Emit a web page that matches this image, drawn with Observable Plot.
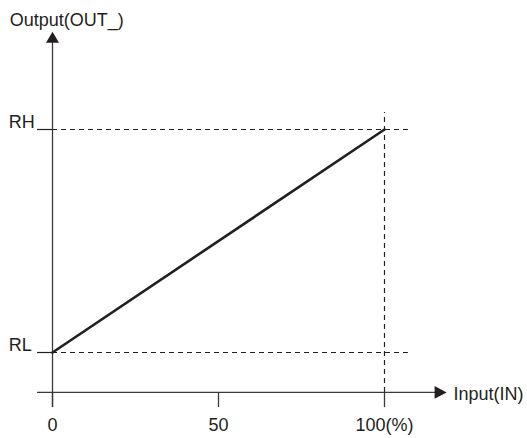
<!DOCTYPE html>
<html>
<head>
<meta charset="utf-8">
<script src="https://cdn.jsdelivr.net/npm/d3@7"></script>
<script src="https://cdn.jsdelivr.net/npm/@observablehq/plot@0.6"></script>
<style>
  html, body { margin: 0; padding: 0; background: #fff; }
</style>
</head>
<body>
<script>
// ---- data ----
const inputPct = [0, 100];            // Input(IN) in %
const outputLevel = [0, 100];         // 0 = RL, 100 = RH (scaled output)
const xTicks = [0, 50, 100];
const xTickLabels = ["0", "50", "100(%)"];
const yLevels = [0, 100];
const yLevelLabels = ["RL", "RH"];
const xAxisTitle = "Input(IN)";
const yAxisTitle = "Output(OUT_)";

// ---- layout (data units of the chart's own scales) ----
const axisYPos = -17.9;      // where the horizontal axis crosses
const axisXStart = -4.5;     // left end of horizontal lines
const axisXArrow = 116.9;    // x-axis arrowhead centre
const axisYBottom = -24.7;   // bottom end of y axis / ticks
const axisYArrow = 141.4;    // y-axis arrowhead centre
const guideRight = 107.2;    // right end of dashed guides
const guideTop = 107.6;      // top end of vertical dashed guide
const labelLeft = -13.2;

const ink = "#231f20";

const arrowRight = {draw(ctx) { ctx.moveTo(6, 0); ctx.lineTo(-6, -6.3); ctx.lineTo(-6, 6.3); ctx.closePath(); }};
const arrowUp = {draw(ctx) { ctx.moveTo(0, -5.5); ctx.lineTo(6.5, 5.5); ctx.lineTo(-6.5, 5.5); ctx.closePath(); }};

const line = inputPct.map((x, i) => ({x, y: outputLevel[i]}));
const levels = yLevels.map((y, i) => ({y, label: yLevelLabels[i]}));
const ticks = xTicks.map((x, i) => ({x, label: xTickLabels[i]}));

const chart = Plot.plot({
  width: 527,
  height: 438,
  marginTop: 0, marginRight: 0, marginBottom: 0, marginLeft: 0,
  x: {domain: [0, 100], range: [52, 384], axis: null},
  y: {domain: [0, 100], range: [352, 129], axis: null},
  style: {fontFamily: "'Liberation Sans', Arial, Helvetica, sans-serif", fontSize: "18px", color: ink, background: "#fff"},
  marks: [
    // dashed guides at RL / RH
    Plot.ruleY(levels, {y: "y", x1: 0, x2: guideRight, stroke: ink, strokeWidth: 1.2, strokeDasharray: "5,4"}),
    Plot.ruleY(levels, {y: "y", x1: axisXStart, x2: 0, stroke: ink, strokeWidth: 1.2}),
    // vertical dashed guide at 100%
    Plot.ruleX([inputPct[1]], {x: d => d, y1: axisYPos, y2: guideTop, stroke: ink, strokeWidth: 1.2, strokeDasharray: "5,4"}),
    // horizontal axis
    Plot.ruleY([axisYPos], {y: d => d, x1: axisXStart, x2: axisXArrow, stroke: "#3a3a3a", strokeWidth: 1.3}),
    Plot.dot([axisXArrow], {x: d => d, y: axisYPos, symbol: arrowRight, r: 5, fill: ink, stroke: "none"}),
    // vertical axis
    Plot.ruleX([0], {x: d => d, y1: axisYBottom, y2: axisYArrow, stroke: "#3a3a3a", strokeWidth: 1.3}),
    Plot.dot([axisYArrow], {x: 0, y: d => d, symbol: arrowUp, r: 5, fill: ink, stroke: "none"}),
    // ticks
    Plot.ruleX(ticks, {x: "x", y1: axisYPos, y2: axisYBottom, stroke: "#3a3a3a", strokeWidth: 1.3}),
    Plot.text(ticks, {x: "x", y: -35.0, text: "label", textAnchor: "middle", lineAnchor: "bottom", fill: ink, fontSize: 18}),
    // level labels
    Plot.text(levels, {x: labelLeft, y: "y", text: "label", textAnchor: "start", lineAnchor: "bottom", dy: -2, fill: ink, fontSize: 18}),
    // axis titles
    Plot.text([yAxisTitle], {x: -12.9, y: 146.6, text: d => d, textAnchor: "start", lineAnchor: "bottom", fill: ink, fontSize: 18}),
    Plot.text([xAxisTitle], {x: 120.8, y: -21.5, text: d => d, textAnchor: "start", lineAnchor: "bottom", fill: ink, fontSize: 18}),
    // transfer line
    Plot.line(line, {x: "x", y: "y", stroke: ink, strokeWidth: 2.6})
  ]
});
document.body.appendChild(chart);
</script>
</body>
</html>
